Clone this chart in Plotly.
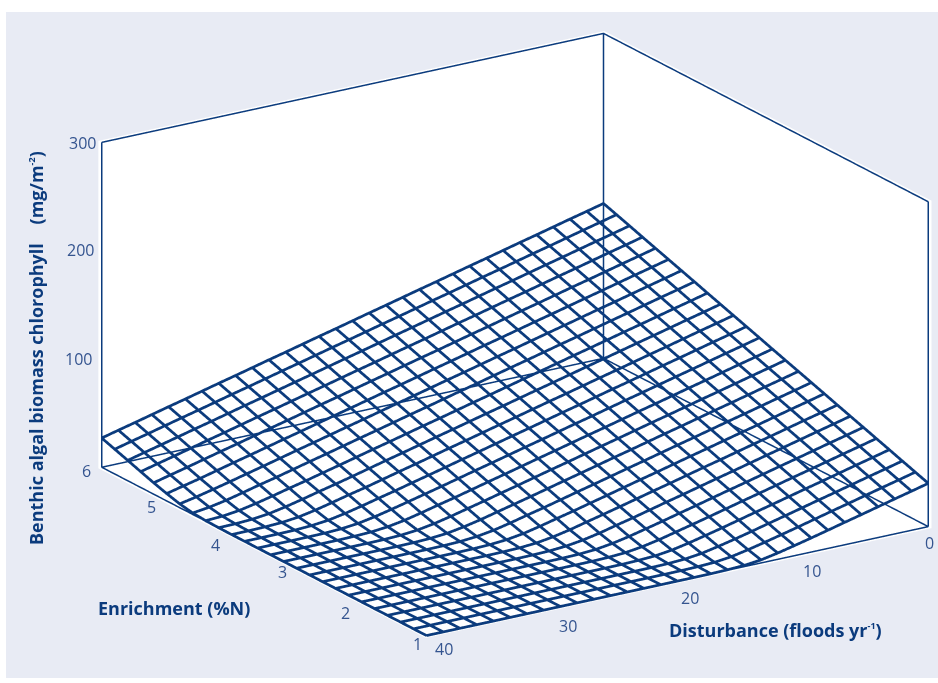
import numpy as np
import plotly.graph_objects as go

enrichment = [1.0,1.2,1.4,1.6,1.8,2.0,2.2,2.4,2.6,2.8,3.0,3.2,3.4,3.6,3.8,4.0,4.2,4.4,4.6,4.8,5.0,5.2,5.4,5.6,5.8,6.0]
disturbance = [0,1.33,2.67,4,5.33,6.67,8,9.33,10.67,12,13.33,14.67,16,17.33,18.67,20,21.33,22.67,24,25.33,26.67,28,29.33,30.67,32,33.33,34.67,36,37.33,38.67,40]
chlorophyll = [
[40,36.1,32.3,28.4,24.5,20.7,16.8,13,9.3,5.8,2.8,1.1,.4,.1,0,0,0,0,0,0,0,0,0,0,0,0,0,0,0,0,0],
[44.1,40.2,36.4,32.5,28.6,24.8,20.9,17,13.2,9.5,6,2.9,1.1,.4,.1,0,0,0,0,0,0,0,0,0,0,0,0,0,0,0,0],
[48.2,44.3,40.5,36.6,32.7,28.9,25,21.1,17.3,13.4,9.7,6.2,3.1,1.2,.4,.1,0,0,0,0,0,0,0,0,0,0,0,0,0,0,0],
[52.4,48.5,44.7,40.8,36.9,33.1,29.2,25.3,21.5,17.6,13.7,10,6.4,3.3,1.3,.5,.1,0,0,0,0,0,0,0,0,0,0,0,0,0,0],
[56.5,52.6,48.8,44.9,41,37.2,33.3,29.4,25.6,21.7,17.8,14,10.3,6.6,3.5,1.4,.5,.1,0,0,0,0,0,0,0,0,0,0,0,0,0],
[60.6,56.7,52.9,49,45.1,41.3,37.4,33.5,29.7,25.8,21.9,18.1,14.2,10.5,6.8,3.7,1.5,.5,.1,0,0,0,0,0,0,0,0,0,0,0,0],
[64.7,60.8,57,53.1,49.2,45.4,41.5,37.6,33.8,29.9,26,22.2,18.3,14.4,10.8,7,3.9,1.7,.6,.2,0,0,0,0,0,0,0,0,0,0,0],
[68.8,64.9,61.1,57.2,53.3,49.5,45.6,41.7,37.9,34,30.1,26.3,22.4,18.5,14.7,11,7.2,4,1.7,.6,.2,0,0,0,0,0,0,0,0,0,0],
[73,69.1,65.3,61.4,57.5,53.7,49.8,45.9,42.1,38.2,34.3,30.5,26.6,22.7,18.9,15,11.4,7.6,4.2,1.9,.7,.2,0,0,0,0,0,0,0,0,0],
[77.1,73.2,69.4,65.5,61.6,57.8,53.9,50,46.2,42.3,38.4,34.6,30.7,26.8,23,19.1,15.2,11.6,7.8,4.4,2,.7,.2,0,0,0,0,0,0,0,0],
[81.2,77.3,73.5,69.6,65.7,61.9,58,54.1,50.3,46.4,42.5,38.7,34.8,30.9,27.1,23.2,19.3,15.5,11.8,8,4.7,2.1,.8,.2,0,0,0,0,0,0,0],
[85.3,81.4,77.6,73.7,69.8,66,62.1,58.2,54.4,50.5,46.6,42.8,38.9,35,31.2,27.3,23.4,19.6,15.7,12,8.2,4.8,2.2,.8,.2,0,0,0,0,0,0],
[89.4,85.5,81.7,77.8,73.9,70.1,66.2,62.3,58.5,54.6,50.7,46.9,43,39.1,35.3,31.4,27.5,23.7,19.8,15.9,12.3,8.5,5,2.4,.9,.3,0,0,0,0,0],
[93.6,89.7,85.9,82,78.1,74.3,70.4,66.5,62.7,58.8,54.9,51.1,47.2,43.3,39.5,35.6,31.7,27.9,24,20.1,16.3,12.6,8.9,5.4,2.6,1,.3,.1,0,0,0],
[97.7,93.8,90,86.1,82.2,78.4,74.5,70.6,66.8,62.9,59,55.2,51.3,47.4,43.6,39.7,35.8,32,28.1,24.2,20.4,16.5,12.9,9.1,5.6,2.7,1.1,.3,.1,0,0],
[101.8,97.9,94.1,90.2,86.3,82.5,78.6,74.7,70.9,67,63.1,59.3,55.4,51.5,47.7,43.8,39.9,36.1,32.2,28.3,24.5,20.6,16.7,13.2,9.4,5.8,2.8,1.1,.4,.1,0],
[105.9,102,98.2,94.3,90.4,86.6,82.7,78.8,75,71.1,67.2,63.4,59.5,55.6,51.8,47.9,44,40.2,36.3,32.4,28.6,24.7,20.8,17,13.4,9.6,6,3,1.2,.4,.1],
[110,106.1,102.3,98.4,94.5,90.7,86.8,82.9,79.1,75.2,71.3,67.5,63.6,59.7,55.9,52,48.1,44.3,40.4,36.5,32.7,28.8,24.9,21.1,17.2,13.6,9.8,6.2,3.1,1.2,.4],
[114.2,110.3,106.5,102.6,98.7,94.9,91,87.1,83.3,79.4,75.5,71.7,67.8,63.9,60.1,56.2,52.3,48.5,44.6,40.7,36.9,33,29.1,25.3,21.4,17.5,13.9,10,6.3,3.3,1.3],
[118.3,114.4,110.6,106.7,102.8,99,95.1,91.2,87.4,83.5,79.6,75.8,71.9,68,64.2,60.3,56.4,52.6,48.7,44.8,41,37.1,33.2,29.4,25.5,21.6,17.8,13.9,10.2,6.6,3.5],
[122.4,118.5,114.7,110.8,106.9,103.1,99.2,95.3,91.5,87.6,83.7,79.9,76,72.1,68.3,64.4,60.5,56.7,52.8,48.9,45.1,41.2,37.3,33.5,29.6,25.7,21.9,18,14.1,10.5,6.8],
[126.5,122.6,118.8,114.9,111,107.2,103.3,99.4,95.6,91.7,87.8,84,80.1,76.2,72.4,68.5,64.6,60.8,56.9,53,49.2,45.3,41.4,37.6,33.7,29.8,26,22.1,18.2,14.4,10.5],
[130.6,126.7,122.9,119,115.1,111.3,107.4,103.5,99.7,95.8,91.9,88.1,84.2,80.3,76.5,72.6,68.7,64.9,61,57.1,53.3,49.4,45.5,41.7,37.8,33.9,30.1,26.2,22.3,18.5,14.6],
[134.8,130.9,127.1,123.2,119.3,115.5,111.6,107.7,103.9,100,96.1,92.3,88.4,84.5,80.7,76.8,72.9,69.1,65.2,61.3,57.5,53.6,49.7,45.9,42,38.1,34.3,30.4,26.5,22.7,18.8],
[138.9,135,131.2,127.3,123.4,119.6,115.7,111.8,108,104.1,100.2,96.4,92.5,88.6,84.8,80.9,77,73.2,69.3,65.4,61.6,57.7,53.8,50,46.1,42.2,38.4,34.5,30.6,26.8,22.9],
[143,139.1,135.3,131.4,127.5,123.7,119.8,115.9,112.1,108.2,104.3,100.5,96.6,92.7,88.9,85,81.1,77.3,73.4,69.5,65.7,61.8,57.9,54.1,50.2,46.3,42.5,38.6,34.7,30.9,27],
]
x_ticks = [1,2,3,4,5,6]
y_ticks = [0,10,20,30,40]
z_ticks = [100,200,300]
x_range = [1,6]
y_range = [0,40]
z_range = [0,300]

# pixel offsets of the tick labels from their anchor on the box edge
x_shift = {1:(-9,9), 2:(-16,12), 3:(-14,5), 4:(-16,11), 5:(-15,7), 6:(-15,5)}
y_shift = {0:(1,17), 10:(9,18), 20:(13,18), 30:(16,19), 40:(18,14)}
z_shift = {100:(-23,1), 200:(-21,0), 300:(-19,1)}

NAVY = "#0b3b7d"
TICK = "#34548f"
PANEL = "#e8ebf4"
EYE_R = 3
SCALE = 1.803
PAD = 0.004  # walls sit a hair behind the frame and mesh so they do not z-fight

fig = go.Figure()
# wire mesh, one polyline per grid row and column of the data
mx, my, mz = [], [], []
for i, n in enumerate(enrichment):
    mx += [n]*len(disturbance) + [None]; my += disturbance + [None]; mz += chlorophyll[i] + [None]
for j, d in enumerate(disturbance):
    mx += enrichment + [None]; my += [d]*len(enrichment) + [None]; mz += [row[j] for row in chlorophyll] + [None]
fig.add_trace(go.Scatter3d(x=mx, y=my, z=mz, mode="lines", line=dict(color=NAVY, width=5.5),
                           hoverinfo="skip", showlegend=False))
# frame edges of the box (floor + two back walls)
x0, x1 = x_range; y0, y1 = y_range; z0, z1 = z_range
fx = [x0,x1,x1,x0,x0,None, x1,x1,None, x1,x1,None, x0,x0,None, x1,x1,x0]
fy = [y0,y0,y1,y1,y0,None, y0,y0,None, y1,y1,None, y0,y0,None, y1,y0,y0]
fz = [z0,z0,z0,z0,z0,None, z0,z1,None, z0,z1,None, z0,z1,None, z1,z1,z1]
fig.add_trace(go.Scatter3d(x=fx, y=fy, z=fz, mode="lines", line=dict(color=NAVY, width=3),
                           hoverinfo="skip", showlegend=False))

def ax(vals, rng):
    pad = (rng[1]-rng[0])*PAD
    return dict(range=[rng[0]-pad, rng[1]+pad], tickvals=vals, title=dict(text=""), showticklabels=False,
                showgrid=False, zeroline=False, showline=False, ticks="", showspikes=False,
                showbackground=True, backgroundcolor="white")

def tick_note(x, y, z, text, shift):
    return dict(x=x, y=y, z=z, text=str(text), showarrow=False, xanchor="center", yanchor="middle",
                xshift=shift[0], yshift=-shift[1], font=dict(family="Open Sans", size=16, color=TICK))

scene_notes = [tick_note(v, y1, z0, v, x_shift[v]) for v in x_ticks]
scene_notes += [tick_note(x0, v, z0, v, y_shift[v]) for v in y_ticks]
scene_notes += [tick_note(x1, y1, v, v, z_shift[v]) for v in z_ticks]

SUP = '<sup><span style="font-size:9px">%s</span></sup>'
def title(text, px, py, angle=0):
    return dict(text=text, x=px/938, y=1-py/683, xref="paper", yref="paper", xanchor="center", yanchor="middle",
                textangle=angle, showarrow=False, font=dict(family="Open Sans", size=18, color=NAVY))

S = SCALE*(1+2*PAD)
fig.update_layout(
    width=938, height=683, margin=dict(l=0,r=0,t=0,b=0), paper_bgcolor="white", showlegend=False,
    scene=dict(
        domain=dict(x=[0.098,1], y=[0.0263,0.9963]),
        xaxis=ax(x_ticks, x_range), yaxis=ax(y_ticks, y_range), zaxis=ax(z_ticks, z_range),
        aspectmode="manual", aspectratio=dict(x=S,y=S,z=0.577*S),
        camera=dict(eye=dict(x=-0.791*EYE_R,y=0.512*EYE_R,z=0.3355*EYE_R), center=dict(x=0,y=0,z=0), up=dict(x=0,y=0,z=1),
                    projection=dict(type="orthographic")),
        bgcolor="rgba(0,0,0,0)",
        annotations=scene_notes,
    ),
    shapes=[dict(type="rect", xref="paper", yref="paper", x0=6/938, x1=1, y0=1-678/683, y1=1-12/683,
                 fillcolor=PANEL, line=dict(width=0), layer="below")],
    annotations=[
        title("<b>Benthic algal biomass chlorophyll    (mg/m" + SUP % "-2" + ")</b>", 36, 348, -90),
        title("<b>Enrichment (%N)</b>", 174, 608),
        title("<b>Disturbance (floods yr" + SUP % "-1" + ")</b>", 775, 630),
    ],
)
fig.write_html("out.html", config={"responsive": False, "displayModeBar": False}, default_width="938px", default_height="683px",
               post_script="document.body.style.margin='0';document.documentElement.style.overflow='hidden';")
